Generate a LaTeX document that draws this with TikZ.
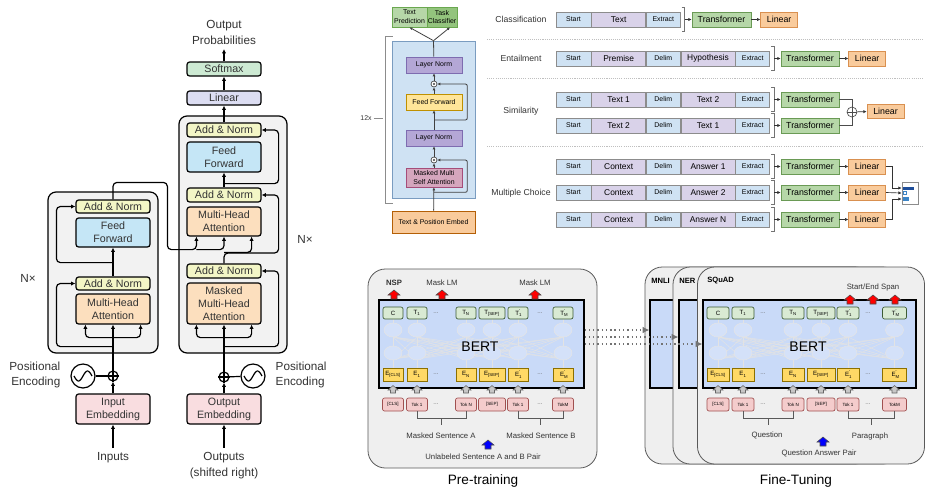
\documentclass[tikz,border=0pt]{standalone}
\usepackage{fontspec}
\setmainfont{Liberation Sans}
\usetikzlibrary{arrows.meta,calc,positioning}
\definecolor{ink}{HTML}{333333}
\definecolor{anfill}{HTML}{F3F6C6}
\definecolor{fffill}{HTML}{C5E6F6}
\definecolor{attfill}{HTML}{FCDFBE}
\definecolor{embfill}{HTML}{F9DDE0}
\definecolor{linfill}{HTML}{DCDDF2}
\definecolor{smfill}{HTML}{CDEAD3}
\definecolor{stackgray}{HTML}{F2F2F2}
\definecolor{gbgfill}{HTML}{CFE2F3}
\definecolor{gbgline}{HTML}{7A9CC0}
\definecolor{glnfill}{HTML}{B4A7D6}
\definecolor{glnline}{HTML}{7E6CB0}
\definecolor{gfffill}{HTML}{FFE599}
\definecolor{gffline}{HTML}{BF9000}
\definecolor{gmsafill}{HTML}{D5A6BD}
\definecolor{gmsaline}{HTML}{A64D79}
\definecolor{gembfill}{HTML}{F9CB9C}
\definecolor{gembline}{HTML}{B45F06}
\definecolor{gtpfill}{HTML}{B6D7A8}
\definecolor{gtcfill}{HTML}{93C47D}
\definecolor{gtline}{HTML}{6AA84F}
\definecolor{startblue}{HTML}{CFE2F3}
\definecolor{textpurple}{HTML}{D9D2E9}
\definecolor{segline}{HTML}{8C8C8C}
\definecolor{trfgreen}{HTML}{B6D7A8}
\definecolor{trfline}{HTML}{6A9A55}
\definecolor{linorange}{HTML}{F9CB9C}
\definecolor{linline}{HTML}{D99050}
\definecolor{bardark}{HTML}{1F4E9A}
\definecolor{barmid}{HTML}{3D85C6}
\definecolor{panelgray}{HTML}{EFEFEF}
\definecolor{bertblue}{HTML}{C9DAF8}
\definecolor{tgreen}{HTML}{D9EAD3}
\definecolor{tgreenline}{HTML}{3D5C34}
\definecolor{eyellow}{HTML}{FFD966}
\definecolor{eline}{HTML}{8C7000}
\definecolor{tokpink}{HTML}{F4CCCC}
\definecolor{tokline}{HTML}{A05050}
\newcommand\fsbox{\fontsize{8}{9.75}\selectfont}
\newcommand\fslbl{\fontsize{8.8}{11.5}\selectfont}
\newcommand\fsgpt{\fontsize{5.2}{6.7}\selectfont}
\newcommand\fsrow{\fontsize{6.5}{8}\selectfont}
\newcommand\fsseg{\fontsize{6.3}{7.5}\selectfont}
\newcommand\fssml{\fontsize{5.2}{6}\selectfont}
\newcommand\fstrf{\fontsize{6.6}{8}\selectfont}
\newcommand\fsbert{\fontsize{10.5}{12}\selectfont}
\newcommand\fsbl{\fontsize{5.8}{7}\selectfont}
\newcommand\fscap{\fontsize{10.2}{12}\selectfont}
\newcommand\fscell{\fontsize{4.6}{5}\selectfont}
\newcommand\fstok{\fontsize{3.4}{4}\selectfont}
\newcommand\fspan{\fontsize{5.7}{7}\selectfont\bfseries}
\newcommand\blockup[3]{\filldraw[#1] (#2,#3) ++(-3,0) -- ++(0,-4) -- ++(-3,0) -- ++(6,-5) -- ++(6,5) -- ++(-3,0) -- ++(0,4) -- cycle;}
\newcommand\houseup[2]{\filldraw[colup] (#1,#2) ++(-2.5,0) -- ++(0,-3) -- ++(-2.5,0) -- ++(5,-4.5) -- ++(5,4.5) -- ++(-2.5,0) -- ++(0,3) -- cycle;}
\newcommand\tprime[2]{#1\rlap{\textsubscript{#2}}\textsuperscript{’}}

\begin{document}
\begin{tikzpicture}[x=0.75pt,y=-0.75pt,
  sz/.style 2 args={minimum width=(#1)*0.75pt,minimum height=(#2)*0.75pt},
  tbox/.style={draw=black,line width=0.9pt,rounded corners=2pt,inner sep=0pt,
               align=center,font=\fsbox,text=ink},
  addnorm/.style={tbox,fill=anfill},
  ffbox/.style={tbox,fill=fffill},
  attbox/.style={tbox,fill=attfill},
  embbox/.style={tbox,fill=embfill},
  stackbg/.style={draw=black,line width=0.9pt,fill=stackgray,rounded corners=6pt},
  tarr/.style={-{Latex[length=3.2pt,width=3.2pt]},line width=0.9pt},
  tline/.style={line width=0.9pt},
  lbl/.style={font=\fslbl,text=ink,align=center},
  gbox/.style={inner sep=0pt,align=center,font=\fsgpt,line width=0.5pt},
  gar/.style={-{Latex[length=2.2pt,width=2.2pt]},line width=0.6pt,black!75},
  gline/.style={line width=0.6pt,black!75},
  gdot/.style={circle,draw=black!75,line width=0.5pt,fill=white,minimum size=4.5pt,inner sep=0pt,
               path picture={\fill[black!75] (path picture bounding box.center) circle (0.8pt);}},
  segb/.style={draw=segline,fill=startblue,inner sep=0pt,font=\fssml,line width=0.5pt},
  segp/.style={draw=segline,fill=textpurple,inner sep=0pt,font=\fsseg,line width=0.5pt},
  trf/.style={draw=trfline,fill=trfgreen,inner sep=0pt,font=\fstrf,line width=0.5pt},
  lin/.style={draw=linline,fill=linorange,inner sep=0pt,font=\fstrf,line width=0.5pt},
  sarr/.style={-{Latex[length=2.5pt,width=2.5pt]},line width=0.5pt,black!80},
  sline/.style={line width=0.5pt,black!70},
  brk/.style={line width=0.5pt,black!55},
  rowsep/.style={line width=0.6pt,black!25,dash pattern=on 0.8pt off 0.8pt},
  rowlbl/.style={font=\fsrow,text=ink},
  panel/.style={draw=black!65,fill=panelgray,rounded corners=13pt,line width=0.6pt},
  bertrect/.style={draw=black,fill=bertblue,line width=0.9pt},
  tcell/.style={draw=tgreenline,fill=tgreen,rounded corners=1.5pt,inner sep=0pt,font=\fscell,line width=0.5pt},
  ecell/.style={draw=eline,fill=eyellow,inner sep=0pt,font=\fscell,line width=0.5pt},
  tokcell/.style={draw=tokline,fill=tokpink,rounded corners=1.5pt,inner sep=0pt,font=\fstok,line width=0.5pt},
  dotsn/.style={font=\fscell,text=black!60,inner sep=0pt},
  netc/.style={draw=black!10,fill=bertblue!80!white,line width=0.4pt},
  netl/.style={draw=black!11,line width=0.35pt},
  tokbrk/.style={line width=0.5pt,black!65},
  blbl/.style={font=\fsbl,text=ink},
  panlbl/.style={font=\fspan,anchor=west,inner sep=0pt},
  colup/.style={fill=black!22,draw=black!60,line width=0.4pt},
  redup/.style={fill=red,draw=black!70,line width=0.4pt},
  blueup/.style={fill=blue,draw=black!70,line width=0.4pt},
  dotarr/.style={line width=1pt,black!55,dash pattern=on 1pt off 2.2pt,-{Latex[length=5pt,width=5pt]}}
]
\useasboundingbox (0,0) rectangle (945,501);

% transformer
\node[stackbg,sz={110}{161}] (encstack) at (103,272.5) {};
\node[stackbg,sz={108}{237}] (decstack) at (233,234.5) {};

\node[addnorm,sz={74}{13}] (encan2) at (113,206.5) {Add \& Norm};
\node[ffbox,sz={74}{29}] (encff) at (113,232.5) {Feed\\Forward};
\node[addnorm,sz={74}{13}] (encan1) at (113,283.5) {Add \& Norm};
\node[attbox,sz={74}{30}] (encmha) at (113,309) {Multi-Head\\Attention};
\node[circle,draw,line width=0.9pt,minimum size=7.5pt,inner sep=0pt] (encadd) at (113,376) {};
\node[circle,draw,line width=0.9pt,minimum size=18pt,inner sep=0pt] (encpe) at (83,376) {};
\node[embbox,sz={74}{30}] (inemb) at (113,409) {Input\\Embedding};
\node[lbl] (inputs) at (113,458) {Inputs};
\node[lbl] (encnx) at (28,278) {N×};
\node[lbl,anchor=east,align=right] (encpelbl) at (65,375) {Positional\\Encoding};

\node[lbl] (outprob) at (224,32.5) {Output\\Probabilities};
\node[tbox,fill=smfill,sz={74}{14}] (softmax) at (224,69) {Softmax};
\node[tbox,fill=linfill,sz={74}{14}] (linear) at (224,98) {Linear};
\node[addnorm,sz={74}{14}] (decan3) at (224,130) {Add \& Norm};
\node[ffbox,sz={74}{30}] (decff) at (224,157) {Feed\\Forward};
\node[addnorm,sz={74}{14}] (decan2) at (224,195) {Add \& Norm};
\node[attbox,sz={74}{29}] (decmha) at (224,221.5) {Multi-Head\\Attention};
\node[addnorm,sz={74}{14}] (decan1) at (224,271) {Add \& Norm};
\node[attbox,sz={74}{41}] (decmmha) at (224,303.5) {Masked\\Multi-Head\\Attention};
\node[circle,draw,line width=0.9pt,minimum size=7.5pt,inner sep=0pt] (decadd) at (224,377) {};
\node[circle,draw,line width=0.9pt,minimum size=18pt,inner sep=0pt] (decpe) at (253,376) {};
\node[embbox,sz={74}{30}] (outemb) at (224,409) {Output\\Embedding};
\node[lbl] (outputs) at (224,465.5) {Outputs\\(shifted right)};
\node[lbl] (decnx) at (305,239) {N×};
\node[lbl,anchor=west,align=left] (decpelbl) at (271,375) {Positional\\Encoding};

\draw[tline] (encadd.north) -- (encadd.south) (encadd.west) -- (encadd.east);
\draw[tline] (decadd.north) -- (decadd.south) (decadd.west) -- (decadd.east);
\draw[tline,shift={(encpe)}] plot[smooth,domain=-9:9,samples=25] (\x,{-5*sin(20*\x)});
\draw[tline,shift={(decpe)}] plot[smooth,domain=-9:9,samples=25] (\x,{-5*sin(20*\x)});
\draw[tline] (encpe) -- (encadd);
\draw[tline] (decpe) -- (decadd);

\draw[tarr] (inputs) -- (inemb);
\draw[tarr] (inemb) -- (encadd);
\draw[tarr] (encadd) -- (encmha);
\draw[tarr,rounded corners=3pt] ($(encmha.south)+(0,13)$) -| ($(encmha.south west)+(10,0)$);
\draw[tarr,rounded corners=3pt] ($(encmha.south)+(0,13)$) -| ($(encmha.south east)+(-10,0)$);
\draw[tarr,rounded corners=3pt] ($(encmha.south)+(0,22)$) -| ($(encan1.west)+(-19,0)$) -- (encan1.west);
\draw[tarr] (encan1) -- (encff);
\draw[tarr,rounded corners=3pt] ($(encff.south)+(0,15)$) -| ($(encan2.west)+(-19,0)$) -- (encan2.west);
\draw[tarr,rounded corners=3pt] (encan2.north) -- ++(0,-17) -| ($(decmha.south west)+(-19,13)$)
  -| ($(decmha.south west)+(10,0)$);
\draw[tarr,rounded corners=3pt] ($(decmha.south west)+(10,13)$) -| (decmha.south);

\draw[tarr] (outputs) -- (outemb);
\draw[tarr] (outemb) -- (decadd);
\draw[tarr] (decadd) -- (decmmha);
\draw[tarr,rounded corners=3pt] ($(decmmha.south)+(0,13)$) -| ($(decmmha.south west)+(10,0)$);
\draw[tarr,rounded corners=3pt] ($(decmmha.south)+(0,13)$) -| ($(decmmha.south east)+(-10,0)$);
\draw[tarr,rounded corners=3pt] ($(decmmha.south)+(0,22)$) -| ($(decan1.east)+(17,0)$) -- (decan1.east);
\draw[tarr,rounded corners=3pt] (decan1.north) |- ($(decan1.east)+(17,-18)$) |- (decan2.east);
\draw[tarr,rounded corners=3pt] ($(decan1.north)+(0,-11)$) -| ($(decmha.south east)+(-10,0)$);
\draw[tarr] (decan2) -- (decff);
\draw[tarr,rounded corners=3pt] ($(decff.south)+(0,11)$) -| ($(decan3.east)+(17,0)$) -- (decan3.east);
\draw[tarr] (decan3) -- (linear);
\draw[tarr] (linear) -- (softmax);
\draw[tarr] (softmax) -- (outprob);

% gpt
\node[gbox,draw=gbgline,fill=gbgfill,sz={83}{157}] (gptbg) at (433.5,119.5) {};
\node[gbox,draw=glnline,fill=glnfill,sz={56}{16}] (gln2) at (434,65) {Layer Norm};
\node[gdot] (gdot2) at (434,84) {};
\node[gbox,draw=gffline,fill=gfffill,sz={56}{16}] (gff) at (434,102) {Feed Forward};
\node[gbox,draw=glnline,fill=glnfill,sz={56}{16}] (gln1) at (434,138) {Layer Norm};
\node[gdot] (gdot1) at (434,160) {};
\node[gbox,draw=gmsaline,fill=gmsafill,sz={56}{19}] (gmsa) at (434,177.5) {Masked Multi\\Self Attention};
\node[gbox,draw=gembline,fill=gembfill,sz={83}{22}] (gemb) at (433.5,222) {Text \& Position Embed};
\node[gbox,draw=gtline,fill=gtpfill,sz={35}{20}] (gtp) at (409.5,17) {Text\\Prediction};
\node[gbox,draw=gtline,fill=gtcfill,sz={30}{20}] (gtc) at (442,17) {Task\\Classifier};
\node[gbox,text=ink] (g12) at (366,118) {12x};

\draw[gline,black!45] ($(gptbg.north west)+(1,-4)$) -| ($(gptbg.south west)+(-6,5)$) -- ++(7,0);
\draw[gline,black!45] ($(g12.east)+(2,0)$) -- ++(9,0);
\draw[gar] (gemb) -- (gmsa);
\draw[gar] (gmsa) -- (gdot1);
\draw[gar] (gdot1) -- (gln1);
\draw[gar] (gln1) -- (gff);
\draw[gar] (gff) -- (gdot2);
\draw[gar] (gdot2) -- (gln2);
\draw[gline] (gln2) -- (gptbg.north);
\draw[gar] (gptbg.north) -- (gtp.south);
\draw[gar] (gptbg.north) -- ($(gtc.south)+(8,0)$);
\draw[gar,rounded corners=1.5pt] ($(gmsa.south)+(0,5)$) -| ($(gdot1.east)+(30,0)$) -- (gdot1.east);
\draw[gar,rounded corners=1.5pt] ($(gff.south)!0.5!(gln1.north)$) -| ($(gdot2.east)+(30,0)$) -- (gdot2.east);

% tasks
\draw[rowsep] (487,39) -- (923,39);
\draw[rowsep] (487,78) -- (923,78);
\draw[rowsep] (487,146) -- (923,146);

\node[rowlbl] (clsl) at (521,19.5) {Classification};
\node[rowlbl] (entl) at (521,58.5) {Entailment};
\node[rowlbl] (siml) at (521,111) {Similarity};
\node[rowlbl] (mcl) at (521,193) {Multiple Choice};

\node[segb,sz={35}{15}] (cls-s) at (573.5,19.5) {Start};
\node[segp,sz={54}{15},right=0pt of cls-s] (cls-a) {Text};
\node[segb,sz={34}{15},right=0pt of cls-a] (cls-e) {Extract};
\draw[brk] ($(cls-e.north east)+(1,-4)$) -- ++(3,0) |- ($(cls-e.south east)+(1,4)$);
\node[trf,sz={59}{15}] (cls-t) at (721.5,19.5) {Transformer};
\node[lin,sz={37}{15},right=6.75pt of cls-t] (cls-l) {Linear};
\draw[sarr] ($(cls-e.east)+(4,0)$) -- (cls-t);
\draw[sarr] (cls-t) -- (cls-l);

\foreach \n/\y/\a/\b in {ent/58.5/Premise/Hypothesis,sima/99.5/Text 1/Text 2,simb/125.5/Text 2/Text 1,
    mca/166.5/Context/Answer 1,mcb/192.5/Context/Answer 2,mcc/219.5/Context/Answer N}{
  \node[segb,sz={35}{15}] (\n-s) at (573.5,\y) {Start};
  \node[segp,sz={54}{15},right=0pt of \n-s] (\n-a) {\a};
  \node[segb,sz={34}{15},right=0pt of \n-a] (\n-d) {Delim};
  \node[segp,sz={54}{15},right=0pt of \n-d] (\n-b) {\b};
  \node[segb,sz={34}{15},right=0pt of \n-b] (\n-e) {Extract};
  \draw[brk] ($(\n-e.north east)+(1,-4)$) -- ++(3,0) |- ($(\n-e.south east)+(1,4)$);
  \node[trf,sz={58}{15}] (\n-t) at (810,\y) {Transformer};
  \draw[sarr] ($(\n-e.east)+(4,0)$) -- (\n-t);
}
\foreach \n in {ent,mca,mcb,mcc}{
  \node[lin,sz={37}{15},right=6.75pt of \n-t] (\n-l) {Linear};
  \draw[sarr] (\n-t) -- (\n-l);
}

\node[circle,draw=black!70,line width=0.5pt,fill=white,minimum size=7.5pt,inner sep=0pt] (simplus) at (852,112) {};
\draw[sline] (simplus.north) -- (simplus.south) (simplus.west) -- (simplus.east);
\node[lin,sz={37}{14}] (sim-l) at (885.5,111) {Linear};
\draw[sline] (sima-t.east) -| (simplus.north);
\draw[sline] (simb-t.east) -| (simplus.south);
\draw[sarr] (simplus) -- (sim-l);

\node[draw=black!45,fill=white,line width=0.5pt,sz={16}{22},inner sep=0pt] (mcout) at (910,193) {};
\fill[bardark] ($(mcout.west)+(1.5,-6.5)$) rectangle ++(11,3);
\draw[barmid,line width=0.4pt] ($(mcout.west)+(1.5,-1.5)$) rectangle ++(3,3);
\fill[barmid] ($(mcout.west)+(1.5,4)$) rectangle ++(6,4);
\draw[sarr] (mca-l.east) -| ($(mcout.west)+(-9,-5)$) -- ($(mcout.west)+(0,-5)$);
\draw[sarr] (mcb-l.east) -- (mcout.west);
\draw[sarr] (mcc-l.east) -| ($(mcout.west)+(-9,6)$) -- ($(mcout.west)+(0,6)$);

% bert pre-training
\node[panel,sz={229}{199}] (prebox) at (482.5,368.5) {};
\node[bertrect,sz={205}{88}] (pbert) at (481.5,344) {};
\foreach \a in {393,417,466,492,518,563}{
  \draw[netl] (\a,368) -- (\a,319);
  \foreach \b in {393,417,466,492,518,563}{\draw[netl] (\a,359) -- (\b,337);}
}
\foreach \a in {393,417,466,492,518,563}{
  \draw[netc] (\a,330) ellipse [x radius=6.75pt,y radius=5.25pt];
  \draw[netc] (\a,353) ellipse [x radius=6.75pt,y radius=5.25pt];
}
\node[font=\fsbert] (pbertlbl) at (480,347) {BERT};
\foreach \i/\x/\w/\t/\e/\k in {1/393/20/C/E\textsubscript{[CLS]}/[CLS],2/417/20/T\textsubscript{1}/E\textsubscript{1}/Tok 1,
    3/466/20/T\textsubscript{N}/E\textsubscript{N}/Tok N,4/492/26/T\textsubscript{[SEP]}/E\textsubscript{[SEP]}/[SEP],
    5/518/20/\tprime{T}{1}/\tprime{E}{1}/Tok 1,6/563/20/\tprime{T}{M}/\tprime{E}{M}/TokM}{
  \node[tcell,sz={\w}{12}] (pt\i) at (\x,313) {\t};
  \node[ecell,sz={\w}{13}] (pe\i) at (\x,374.5) {\e};
  \node[tokcell,sz={\w+1}{13}] (pk\i) at (\x,404.5) {\k};
  \houseup{\x}{393}
}
\foreach \y/\r in {313/a,374.5/b,404.5/c}{
  \node[dotsn] (pd1\r) at (436,\y) {...};
  \node[dotsn] (pd2\r) at (540,\y) {...};
}
\draw[tokbrk] (pk2.south) -- ++(0,7) -| (pk3.south);
\draw[tokbrk] ($(pk2.south)!0.5!(pk3.south)+(0,7)$) -- ++(0,7);
\draw[tokbrk] (pk5.south) -- ++(0,7) -| (pk6.south);
\draw[tokbrk] ($(pk5.south)!0.5!(pk6.south)+(0,7)$) -- ++(0,7);
\node[blbl] (psenta) at (441,436) {Masked Sentence A};
\node[blbl] (psentb) at (541,436) {Masked Sentence B};
\node[blbl] (ppair) at (483,457) {Unlabeled Sentence A and B Pair};
\blockup{blueup}{488}{449}
\node[blbl,font=\fsbl\bfseries] (pnsp) at (394,283) {NSP};
\node[blbl] (pmlm1) at (442,283) {Mask LM};
\node[blbl] (pmlm2) at (535,283) {Mask LM};
\blockup{redup}{394}{299}
\blockup{redup}{442}{299}
\blockup{redup}{535}{299}
\node[font=\fscap] (precap) at (483,481) {Pre-training};

% fine-tuning
\node[panel,sz={227}{197}] (mnlibox) at (758.5,365.5) {};
\node[bertrect,sz={213}{88}] (mbert) at (756.5,344) {};
\node[panlbl] (mnlilbl) at (651,281) {MNLI};
\node[panel,sz={227}{197}] (nerbox) at (786.5,365.5) {};
\node[bertrect,sz={213}{88}] (nbert) at (785.5,344) {};
\node[panlbl] (nerlbl) at (679,281) {NER};
\node[panel,sz={227}{197}] (sqbox) at (811,365.5) {};
\node[bertrect,sz={213}{88}] (sbert) at (809.5,344) {};
\node[panlbl] (sqlbl) at (707,281) {SQuAD};
\foreach \a in {718,743,793,821,848,894.5}{
  \draw[netl] (\a,368) -- (\a,319);
  \foreach \b in {718,743,793,821,848,894.5}{\draw[netl] (\a,359) -- (\b,337);}
}
\foreach \a in {718,743,793,821,848,894.5}{
  \draw[netc] (\a,330) ellipse [x radius=6.75pt,y radius=5.25pt];
  \draw[netc] (\a,353) ellipse [x radius=6.75pt,y radius=5.25pt];
}
\node[font=\fsbert] (sbertlbl) at (808,347) {BERT};
\foreach \i/\x/\w/\t/\e/\k in {1/718/22/C/E\textsubscript{[CLS]}/[CLS],2/743/22/T\textsubscript{1}/E\textsubscript{1}/Tok 1,
    3/793/22/T\textsubscript{N}/E\textsubscript{N}/Tok N,4/821/28/T\textsubscript{[SEP]}/E\textsubscript{[SEP]}/[SEP],
    5/848/22/\tprime{T}{1}/\tprime{E}{1}/Tok 1,6/894.5/24/\tprime{T}{M}/\tprime{E}{M}/TokM}{
  \node[tcell,sz={\w}{12}] (ft\i) at (\x,313) {\t};
  \node[ecell,sz={\w}{13}] (fe\i) at (\x,374.5) {\e};
  \node[tokcell,sz={\w}{13}] (fk\i) at (\x,404.5) {\k};
  \houseup{\x}{393}
}
\foreach \y/\r in {313/a,374.5/b,404.5/c}{
  \node[dotsn] (fd1\r) at (763,\y) {...};
  \node[dotsn] (fd2\r) at (868,\y) {...};
}
\draw[tokbrk] (fk2.south) -- ++(0,7) -| (fk3.south);
\draw[tokbrk] ($(fk2.south)!0.5!(fk3.south)+(0,7)$) -- ++(0,7);
\draw[tokbrk] (fk5.south) -- ++(0,7) -| (fk6.south);
\draw[tokbrk] ($(fk5.south)!0.5!(fk6.south)+(0,7)$) -- ++(0,7);
\node[blbl] (fques) at (767,435) {Question};
\node[blbl] (fpara) at (870,436) {Paragraph};
\node[blbl] (fpair) at (819,453) {Question Answer Pair};
\blockup{blueup}{823}{446}
\node[blbl] (fspan) at (873,287) {Start/End Span};
\blockup{redup}{850}{304}
\blockup{redup}{873}{304}
\blockup{redup}{895}{304}
\node[font=\fscap] (finecap) at (796,481) {Fine-Tuning};

\draw[dotarr] ([yshift=10.5pt]pbert.east) -- ([yshift=10.5pt]mbert.west);
\draw[dotarr] ([yshift=5.25pt]pbert.east) -- ([yshift=5.25pt]nbert.west);
\draw[dotarr] (pbert.east) -- (sbert.west);
\end{tikzpicture}
\end{document}
